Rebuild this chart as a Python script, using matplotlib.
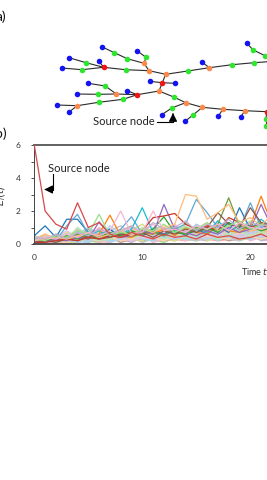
import numpy as np
import matplotlib
matplotlib.use("Agg")
import matplotlib.pyplot as plt

plt.rcParams['font.family'] = ['Lato', 'DejaVu Sans']

# ---- panel a : network layout (pixel positions of the drawing) ----
node_x = [165.7, 149.0, 144.0, 127.3, 114.3, 101.7, 146.0, 137.3, 125.7, 103.7,
          86.0, 69.0, 98.7, 82.0, 61.7, 187.7, 209.3, 202.3, 232.0, 254.0,
          246.7, 253.3, 264.5, 162.3, 149.7, 175.0, 159.0, 137.3, 116.3, 105.3,
          88.0, 98.0, 76.7, 127.0, 123.0, 98.7, 77.3, 57.0, 69.0, 173.7,
          185.7, 172.3, 161.7, 202.3, 192.7, 185.0, 222.7, 218.3, 245.0, 240.7,
          266.7, 266.0, 266.0, 285.0, 285.0, 285.0]
node_y = [74.3, 70.7, 63.3, 58.7, 52.7, 46.7, 57.3, 51.0, 69.7, 67.3,
          62.7, 57.7, 61.0, 69.7, 68.0, 71.0, 67.7, 62.3, 64.7, 62.7,
          43.3, 50.0, 55.5, 82.7, 81.3, 83.3, 91.0, 94.7, 94.0, 86.0,
          83.3, 94.3, 94.0, 90.7, 99.3, 102.3, 105.7, 105.0, 112.0, 97.0,
          102.7, 107.7, 114.7, 107.3, 115.3, 121.3, 109.3, 116.3, 110.7, 116.7,
          111.7, 119.0, 126.0, 60.5, 62.0, 112.5]
node_kind = ['o', 'o', 'o', 'g', 'g', 'b', 'g', 'b', 'g', 'r',
             'g', 'b', 'b', 'g', 'b', 'g', 'o', 'b', 'g', 'g',
             'b', 'g', 'g', 'r', 'b', 'b', 'o', 'r', 'o', 'g',
             'b', 'g', 'b', 'b', 'g', 'g', 'o', 'b', 'b', 'g',
             'o', 'g', 'b', 'o', 'g', 'b', 'o', 'b', 'o', 'b',
             'r', 'g', 'g', 'o', 'o', 'o']
edges = [(0, 1), (1, 2), (2, 3), (3, 4), (4, 5), (2, 6), (6, 7), (1, 8), (8, 9),
         (9, 10), (10, 11), (9, 12), (9, 13), (13, 14), (0, 15), (15, 16),
         (16, 17), (16, 18), (18, 19), (19, 53), (20, 21), (21, 22), (22, 54),
         (0, 23), (23, 24), (23, 25), (23, 26), (26, 27), (27, 28), (28, 29),
         (29, 30), (28, 31), (31, 32), (27, 33), (27, 34), (34, 35), (35, 36),
         (36, 37), (36, 38), (26, 39), (39, 40), (40, 41), (41, 42), (40, 43),
         (43, 44), (44, 45), (43, 46), (46, 47), (46, 48), (48, 49), (48, 50),
         (50, 51), (51, 52), (50, 55)]
kind_colors = {'b': '#1414f0', 'g': '#2ee62e', 'o': '#f98a4c', 'r': '#f01414'}

# ---- panel b : energy of every node over time ----
t = list(range(23))
source_series = [6.0, 2.0, 1.2, 0.9, 2.5, 1.0, 1.3, 0.6, 0.4, 0.7, 0.5, 0.3, 0.6, 0.4, 0.5, 0.3, 0.6, 0.4, 0.5, 0.3, 0.4, 0.6, 0.3]
front_series = {
    '#1f77b4': [0.5, 1.1, 0.4, 1.5, 1.5, 0.7, 0.5, 0.9, 0.4, 0.7, 0.5, 0.8, 0.6, 1.0, 0.5, 0.9, 0.6, 1.1, 0.7, 2.2, 0.9, 1.2, 0.8],
    '#5fa8d8': [0.2, 0.3, 0.2, 1.1, 1.8, 0.6, 0.4, 0.5, 0.9, 1.65, 0.6, 0.8, 0.5, 0.9, 1.2, 2.7, 1.9, 1.0, 1.3, 0.9, 2.5, 1.0, 1.3],
    '#17becf': [0.3, 0.2, 0.4, 0.3, 0.6, 0.5, 0.8, 0.4, 0.6, 0.9, 2.2, 0.7, 0.5, 0.8, 0.6, 1.0, 0.7, 1.4, 0.8, 1.1, 0.9, 1.5, 1.0],
    '#ff7f0e': [0.2, 0.4, 0.3, 0.2, 0.5, 0.4, 0.6, 1.75, 0.5, 0.4, 0.7, 0.6, 0.9, 0.5, 1.0, 0.7, 0.6, 1.2, 0.8, 0.7, 1.1, 2.9, 1.2],
    '#2ca02c': [0.1, 0.2, 0.3, 0.5, 0.3, 0.6, 0.4, 0.7, 0.5, 0.8, 0.6, 0.9, 1.65, 0.7, 0.6, 0.8, 1.0, 0.7, 1.3, 0.9, 1.1, 0.8, 1.0],
    '#6f9a3c': [0.1, 0.3, 0.2, 0.4, 0.6, 0.3, 0.5, 0.4, 0.7, 0.5, 0.6, 0.8, 0.5, 0.9, 0.6, 1.0, 0.8, 1.2, 2.8, 1.1, 0.9, 1.3, 1.0],
    '#9467bd': [0.2, 0.1, 0.3, 0.2, 0.4, 0.3, 1.35, 0.6, 0.4, 0.5, 0.8, 0.6, 2.4, 0.9, 0.7, 0.5, 0.8, 0.6, 1.0, 0.7, 0.9, 2.4, 1.0],
    '#8c564b': [0.1, 0.2, 0.1, 0.3, 0.2, 0.5, 0.3, 0.4, 0.6, 0.5, 0.7, 0.4, 0.8, 0.6, 0.9, 0.7, 1.0, 1.9, 1.2, 1.0, 2.2, 1.3, 1.1],
    '#c8382c': [0.1, 0.1, 0.2, 0.3, 0.2, 0.4, 0.3, 0.5, 0.4, 0.6, 0.8, 1.6, 1.7, 1.85, 1.2, 0.9, 1.1, 0.8, 1.6, 1.3, 1.0, 1.2, 0.9],
    '#ffbb78': [0.2, 0.3, 0.4, 0.3, 0.5, 0.7, 0.4, 0.6, 0.8, 0.5, 0.9, 0.7, 1.0, 1.2, 3.0, 2.9, 1.5, 1.9, 2.4, 1.3, 1.6, 1.1, 1.8],
    '#98df8a': [0.3, 0.2, 0.5, 0.4, 0.8, 0.6, 1.8, 0.5, 0.7, 0.6, 0.9, 0.8, 1.2, 0.7, 1.0, 0.9, 1.3, 0.8, 1.1, 1.4, 0.9, 1.2, 1.0],
    '#f7b6d2': [0.2, 0.4, 0.3, 0.6, 0.4, 0.7, 0.5, 0.8, 2.0, 0.6, 0.7, 2.0, 0.8, 0.9, 0.7, 1.1, 0.9, 1.2, 0.8, 1.3, 1.0, 0.9, 1.1],
    '#c5b0d5': [0.4, 0.3, 0.6, 0.3, 0.7, 0.5, 0.9, 0.6, 0.8, 1.1, 0.7, 1.3, 0.9, 1.0, 1.4, 0.8, 1.2, 1.0, 1.5, 0.9, 1.3, 1.1, 1.2],
}
back_series = [
    [0.2, 0.3, 0.1, 0.4, 0.2, 0.5, 0.3, 0.6, 0.2, 0.4, 0.7, 0.3, 0.5, 0.8, 0.4, 0.6, 0.3, 0.9, 0.5, 0.7, 0.4, 0.8, 0.6],
    [0.1, 0.1, 0.3, 0.2, 0.6, 0.3, 0.8, 0.4, 0.5, 0.3, 0.6, 0.9, 0.4, 0.7, 1.0, 0.5, 0.8, 0.6, 1.1, 0.7, 0.9, 1.2, 0.7],
    [0.3, 0.2, 0.4, 0.1, 0.3, 0.7, 0.4, 0.3, 0.8, 0.5, 0.4, 0.6, 1.0, 0.5, 0.7, 1.1, 0.6, 0.8, 0.5, 1.0, 1.3, 0.6, 0.9],
    [0.0, 0.2, 0.1, 0.5, 0.4, 0.2, 0.6, 0.9, 0.3, 0.7, 0.5, 0.8, 0.3, 0.6, 0.9, 0.4, 1.2, 0.7, 0.9, 0.6, 0.8, 1.0, 0.5],
    [0.4, 0.1, 0.2, 0.3, 0.8, 0.5, 0.2, 0.5, 0.7, 1.0, 0.4, 0.5, 0.7, 0.4, 0.6, 0.8, 0.5, 1.0, 1.3, 0.5, 0.7, 0.9, 1.1],
    [0.2, 0.4, 0.3, 0.2, 0.5, 0.9, 0.7, 0.3, 0.4, 0.6, 0.9, 0.5, 0.8, 1.1, 0.5, 0.7, 0.9, 0.4, 0.8, 1.2, 0.6, 0.7, 1.0],
    [0.1, 0.2, 0.5, 0.6, 0.3, 0.4, 1.0, 0.6, 0.5, 0.3, 0.7, 1.2, 0.6, 0.4, 0.8, 1.0, 0.7, 0.5, 0.9, 0.6, 1.1, 0.8, 0.6],
    [0.3, 0.5, 0.2, 0.3, 0.9, 0.6, 0.4, 0.8, 1.1, 0.6, 0.4, 0.7, 0.5, 0.9, 0.6, 0.4, 1.0, 0.8, 0.6, 0.9, 0.5, 1.3, 0.8],
    [0.2, 0.1, 0.2, 0.7, 0.5, 0.3, 0.5, 0.4, 0.6, 0.8, 1.2, 0.6, 0.9, 0.7, 1.3, 0.8, 0.6, 1.1, 0.7, 0.8, 1.0, 0.6, 0.9],
    [0.5, 0.3, 0.1, 0.4, 0.6, 1.0, 0.5, 0.7, 0.3, 0.5, 0.8, 0.4, 0.6, 1.0, 0.7, 0.5, 0.9, 0.6, 1.0, 0.7, 1.2, 0.9, 1.4],
    [0.1, 0.4, 0.2, 0.2, 0.4, 0.3, 0.8, 0.5, 0.9, 0.4, 0.6, 0.8, 1.1, 0.5, 0.6, 0.9, 1.3, 0.7, 0.4, 0.9, 0.6, 1.0, 0.7],
    [0.3, 0.2, 0.6, 0.5, 0.7, 0.4, 0.3, 1.1, 0.6, 0.8, 0.5, 1.0, 0.7, 0.5, 0.9, 0.7, 0.5, 0.8, 1.2, 0.6, 0.9, 0.7, 1.0],
    [0.2, 0.3, 0.4, 0.8, 0.4, 0.6, 0.5, 0.3, 0.7, 0.9, 0.6, 0.4, 0.8, 1.2, 0.6, 0.8, 0.6, 1.4, 0.7, 1.1, 0.8, 0.5, 0.8],
    [0.1, 0.2, 0.3, 0.3, 1.0, 0.5, 0.7, 0.6, 0.4, 0.6, 1.0, 0.7, 0.5, 0.8, 1.1, 0.6, 0.9, 0.7, 0.6, 1.0, 1.4, 0.7, 1.2],
    [0.4, 0.2, 0.2, 0.6, 0.3, 0.8, 0.6, 0.9, 0.5, 0.4, 0.7, 0.9, 0.6, 0.7, 0.5, 1.2, 0.8, 0.6, 1.0, 0.8, 0.6, 1.1, 0.9],
    [0.3, 0.6, 0.3, 0.4, 0.6, 0.4, 0.9, 0.5, 0.8, 1.1, 0.5, 0.6, 0.9, 0.6, 1.0, 0.7, 1.1, 0.9, 0.7, 1.3, 0.8, 0.9, 0.6],
    [0.1, 0.1, 0.2, 0.1, 0.3, 0.2, 0.1, 0.3, 0.2, 0.4, 0.2, 0.3, 0.1, 0.4, 0.3, 0.2, 0.4, 0.3, 0.5, 0.2, 0.4, 0.3, 0.2],
    [0.0, 0.2, 0.1, 0.2, 0.1, 0.3, 0.2, 0.1, 0.4, 0.2, 0.3, 0.5, 0.2, 0.3, 0.2, 0.4, 0.3, 0.2, 0.3, 0.5, 0.3, 0.4, 0.5],
    [0.2, 0.1, 0.0, 0.3, 0.2, 0.1, 0.4, 0.2, 0.3, 0.1, 0.4, 0.2, 0.5, 0.3, 0.4, 0.3, 0.2, 0.5, 0.3, 0.4, 0.6, 0.2, 0.3],
    [0.1, 0.0, 0.2, 0.1, 0.4, 0.2, 0.3, 0.4, 0.1, 0.3, 0.2, 0.4, 0.3, 0.2, 0.5, 0.3, 0.6, 0.4, 0.2, 0.3, 0.4, 0.5, 0.4],
    [0.0, 0.1, 0.1, 0.2, 0.2, 0.4, 0.1, 0.2, 0.3, 0.2, 0.5, 0.1, 0.3, 0.4, 0.2, 0.5, 0.3, 0.3, 0.4, 0.6, 0.2, 0.4, 0.3],
    [0.2, 0.2, 0.1, 0.0, 0.3, 0.1, 0.3, 0.5, 0.2, 0.4, 0.1, 0.3, 0.4, 0.5, 0.3, 0.2, 0.4, 0.6, 0.3, 0.2, 0.5, 0.3, 0.6],
    [0.1, 0.3, 0.2, 0.1, 0.1, 0.3, 0.2, 0.3, 0.5, 0.3, 0.2, 0.6, 0.3, 0.2, 0.4, 0.6, 0.2, 0.4, 0.5, 0.3, 0.4, 0.6, 0.3],
    [0.0, 0.1, 0.3, 0.2, 0.2, 0.1, 0.5, 0.2, 0.3, 0.5, 0.3, 0.2, 0.6, 0.4, 0.3, 0.4, 0.5, 0.2, 0.6, 0.4, 0.3, 0.5, 0.4],
    [0.1, 0.2, 0.0, 0.1, 0.5, 0.3, 0.2, 0.4, 0.2, 0.3, 0.6, 0.4, 0.2, 0.5, 0.6, 0.3, 0.5, 0.4, 0.3, 0.7, 0.5, 0.3, 0.5],
    [0.3, 0.1, 0.1, 0.3, 0.1, 0.2, 0.4, 0.1, 0.3, 0.6, 0.3, 0.5, 0.4, 0.3, 0.7, 0.4, 0.3, 0.6, 0.4, 0.5, 0.7, 0.4, 0.6],
    [0.2, 0.0, 0.2, 0.2, 0.3, 0.5, 0.3, 0.6, 0.4, 0.2, 0.4, 0.3, 0.7, 0.4, 0.5, 0.7, 0.4, 0.5, 0.8, 0.4, 0.6, 0.5, 0.7],
    [0.1, 0.2, 0.1, 0.4, 0.2, 0.4, 0.2, 0.3, 0.6, 0.4, 0.5, 0.7, 0.3, 0.6, 0.4, 0.5, 0.7, 0.3, 0.6, 0.8, 0.5, 0.7, 0.4],
]
back_colors = ['#aec7e8', '#ffbb78', '#98df8a', '#ff9896', '#c5b0d5', '#c49c94', '#f7b6d2',
               '#c7c7c7', '#dbdb8d', '#9edae5', '#ffd5b0', '#b5d3ee', '#e3c7e0', '#bfe5b5']

fig = plt.figure(figsize=(2.67, 4.8), dpi=100)

# panel b axes (extends past the right edge, as in the cropped original)
W, H = 267.0, 480.0
ax = fig.add_axes([34.3 / W, (H - 244) / H, 22 * 10.8 / W, 99 / H])
for i, ys in enumerate(back_series):
    ax.plot(t, ys, color=back_colors[i % len(back_colors)], lw=1.1, zorder=1)
for c, ys in front_series.items():
    ax.plot(t, ys, color=c, lw=0.9, zorder=2)
ax.plot(t, source_series, color='#d9484a', lw=0.9, zorder=3)
ax.set_xlim(0, 22)
ax.set_ylim(0, 6)
ax.set_xticks([0, 10, 20])
ax.set_yticks([0, 2, 4, 6])
ax.set_yticks([1, 3, 5], minor=True)
ax.tick_params(axis='x', length=0, labelsize=6, pad=7, colors='#333333')
ax.tick_params(axis='y', which='both', length=2, width=0.6, labelsize=6,
               pad=8, colors='#333333')
ax.spines['top'].set_color('#555555')
ax.spines['top'].set_linewidth(1.3)
ax.spines['bottom'].set_color('#444444')
ax.spines['bottom'].set_linewidth(1.3)
ax.spines['left'].set_color('#444444')
ax.spines['left'].set_linewidth(0.7)
ax.spines['right'].set_visible(False)

# overlay in pixel units for the network and the labels
ov = fig.add_axes([0, 0, 1, 1], zorder=5)
ov.set_xlim(0, W)
ov.set_ylim(H, 0)
ov.axis('off')
ov.patch.set_visible(False)

for a, b in edges:
    ov.plot([node_x[a], node_x[b]], [node_y[a], node_y[b]], color='#2a2a2a', lw=0.8, zorder=1)
for k, c in kind_colors.items():
    xs = [x for x, kk in zip(node_x, node_kind) if kk == k]
    ys = [y for y, kk in zip(node_y, node_kind) if kk == k]
    ov.scatter(xs, ys, s=16, color=c, zorder=2, linewidths=0)

ov.text(6.5, 17, 'a)', fontsize=10, ha='right', va='center', color='#111111')
ov.text(6.5, 134, 'b)', fontsize=10, ha='right', va='center', color='#111111')

# source node callout, panel a
ov.text(123.5, 121.5, 'Source node', fontsize=8, ha='center', va='center', color='#222222')
ov.plot([157, 173, 173], [122, 122, 116], color='black', lw=0.8)
ov.annotate('', xy=(173, 110.3), xytext=(173, 117),
            arrowprops=dict(arrowstyle='-|>,head_length=0.5,head_width=0.25',
                            color='black', lw=0.8))

# source node callout, panel b
ov.text(79, 169, 'Source node', fontsize=8, ha='center', va='center', color='#222222')
ov.plot([53.3, 53.3, 48], [174, 189.5, 189.5], color='black', lw=0.8)
ov.annotate('', xy=(41.5, 189.5), xytext=(49, 189.5),
            arrowprops=dict(arrowstyle='-|>,head_length=0.5,head_width=0.25',
                            color='black', lw=0.8))

ov.text(1, 196, '$E_i(t)$', fontsize=7, rotation=90, ha='center', va='center', color='#333333')
ov.text(254.5, 271.5, 'Time $t$', fontsize=6.5, ha='center', va='center', color='#333333')

fig.savefig('out.png', dpi=100)
